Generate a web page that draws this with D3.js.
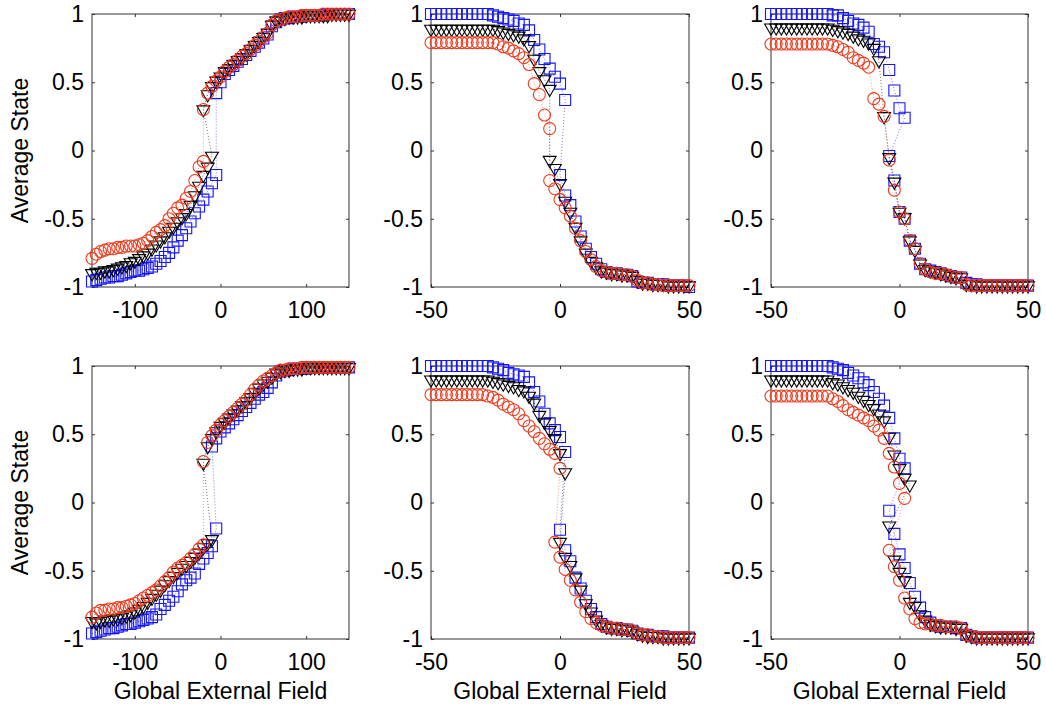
<!DOCTYPE html>
<html>
<head>
<meta charset="utf-8">
<script src="https://cdn.jsdelivr.net/npm/d3@7"></script>
<style>
  body { margin: 0; background: #fff; }
  svg text { font-family: "Liberation Sans", Arial, Helvetica, sans-serif; fill: #000; }
</style>
</head>
<body>
<svg id="chart" width="1046" height="710"></svg>
<script>
// ---- tick values and labels ----
const wideTicks = [-100, 0, 100];
const narrowTicks = [-50, 0, 50];
const stateTicks = [-1, -0.5, 0, 0.5, 1];
const xLabel = "Global External Field";
const yLabel = "Average State";

// ---- measured curves: [field, average state] in sweep order ----
// top row, left panel
const a1Squares = [[-150,-0.96],[-145,-0.95],[-140,-0.94],[-135,-0.93],[-130,-0.93],[-125,-0.92],[-120,-0.92],[-115,-0.91],[-110,-0.90],[-105,-0.89],[-100,-0.88],[-95,-0.88],[-90,-0.87],[-85,-0.86],[-80,-0.85],[-75,-0.83],[-70,-0.81],[-65,-0.78],[-60,-0.75],[-55,-0.71],[-50,-0.66],[-45,-0.62],[-40,-0.57],[-35,-0.52],[-30,-0.46],[-25,-0.41],[-20,-0.36],[-15,-0.30],[-10,-0.24],[-5,-0.18],
  [-5,0.42],[0,0.50],[5,0.56],[10,0.59],[15,0.62],[20,0.65],[25,0.67],[30,0.70],[35,0.73],[40,0.76],[45,0.79],[50,0.82],[55,0.85],[60,0.91],[65,0.94],[70,0.96],[75,0.97],[80,0.97],[85,0.98],[90,0.98],[95,0.98],[100,0.99],[105,0.99],[110,0.99],[115,0.99],[120,0.99],[125,1.0],[130,1.0],[135,1.0],[140,1.0],[145,1.0],[150,1.0]];
const a1Triangles = [[-150,-0.90],[-145,-0.89],[-140,-0.89],[-135,-0.88],[-130,-0.88],[-125,-0.87],[-120,-0.86],[-115,-0.85],[-110,-0.84],[-105,-0.82],[-100,-0.81],[-95,-0.79],[-90,-0.77],[-85,-0.75],[-80,-0.72],[-75,-0.69],[-70,-0.66],[-65,-0.63],[-60,-0.59],[-55,-0.56],[-50,-0.52],[-45,-0.49],[-40,-0.46],[-35,-0.40],[-30,-0.33],[-25,-0.26],[-20,-0.18],[-15,-0.12],[-10,-0.04],
  [-20,0.30],[-15,0.41],[-10,0.47],[-5,0.51],[0,0.54],[5,0.58],[10,0.60],[15,0.63],[20,0.66],[25,0.68],[30,0.71],[35,0.74],[40,0.77],[45,0.80],[50,0.83],[55,0.86],[60,0.92],[65,0.95],[70,0.96],[75,0.97],[80,0.98],[85,0.98],[90,0.98],[95,0.98],[100,0.99],[105,0.99],[110,0.99],[115,0.99],[120,0.99],[125,0.99],[130,1.0],[135,1.0],[140,1.0],[145,1.0],[150,1.0]];
const a1Circles = [[-150,-0.79],[-145,-0.76],[-140,-0.74],[-135,-0.73],[-130,-0.72],[-125,-0.72],[-120,-0.71],[-115,-0.71],[-110,-0.70],[-105,-0.70],[-100,-0.70],[-95,-0.69],[-90,-0.68],[-85,-0.66],[-80,-0.63],[-75,-0.60],[-70,-0.58],[-65,-0.55],[-60,-0.50],[-55,-0.46],[-50,-0.42],[-45,-0.40],[-40,-0.35],[-35,-0.30],[-30,-0.22],[-25,-0.12],[-20,-0.08],
  [-20,0.30],[-15,0.42],[-10,0.47],[-5,0.51],[0,0.54],[5,0.58],[10,0.61],[15,0.63],[20,0.66],[25,0.69],[30,0.71],[35,0.74],[40,0.77],[45,0.80],[50,0.83],[55,0.86],[60,0.92],[65,0.95],[70,0.96],[75,0.97],[80,0.98],[85,0.98],[90,0.98],[95,0.99],[100,0.99],[105,0.99],[110,0.99],[115,0.99],[120,1.0],[125,1.0],[130,1.0],[135,1.0],[140,1.0],[145,1.0],[150,1.0]];

// top row, middle panel
const a2Squares = [[-50,1],[-48,1],[-46,1],[-44,1],[-42,1],[-40,1],[-38,1],[-36,1],[-34,1],[-32,1],[-30,1],[-28,1],[-26,0.99],[-24,0.98],[-22,0.97],[-20,0.96],[-18,0.95],[-16,0.93],[-14,0.92],[-12,0.88],[-10,0.81],[-8,0.74],[-6,0.67],[-4,0.60],[-2,0.54],[0,0.49],[2,0.37],
  [0,-0.18],[2,-0.33],[4,-0.40],[6,-0.52],[8,-0.63],[10,-0.72],[12,-0.78],[14,-0.83],[16,-0.87],[18,-0.89],[20,-0.90],[22,-0.90],[24,-0.91],[26,-0.91],[28,-0.92],[30,-0.96],[32,-0.97],[34,-0.97],[36,-0.98],[38,-0.98],[40,-0.98],[42,-0.99],[44,-0.99],[46,-0.99],[48,-0.99],[50,-1.0]];
const a2Triangles = [[-50,0.89],[-48,0.89],[-46,0.89],[-44,0.89],[-42,0.89],[-40,0.89],[-38,0.89],[-36,0.89],[-34,0.89],[-32,0.89],[-30,0.89],[-28,0.89],[-26,0.89],[-24,0.88],[-22,0.87],[-20,0.86],[-18,0.85],[-16,0.84],[-14,0.82],[-12,0.77],[-10,0.67],[-8,0.58],[-6,0.52],[-4,0.45],
  [-4,-0.07],[-2,-0.13],[0,-0.24],[2,-0.37],[4,-0.45],[6,-0.56],[8,-0.66],[10,-0.75],[12,-0.81],[14,-0.85],[16,-0.88],[18,-0.89],[20,-0.90],[22,-0.90],[24,-0.91],[26,-0.91],[28,-0.92],[30,-0.95],[32,-0.97],[34,-0.97],[36,-0.98],[38,-0.98],[40,-0.98],[42,-0.99],[44,-0.99],[46,-0.99],[48,-0.99],[50,-0.99]];
const a2Circles = [[-50,0.79],[-48,0.79],[-46,0.79],[-44,0.79],[-42,0.79],[-40,0.79],[-38,0.79],[-36,0.79],[-34,0.79],[-32,0.79],[-30,0.79],[-28,0.79],[-26,0.79],[-24,0.78],[-22,0.76],[-20,0.75],[-18,0.73],[-16,0.71],[-14,0.68],[-12,0.63],[-10,0.49],[-8,0.41],[-6,0.26],[-4,0.16],
  [-4,-0.22],[-2,-0.28],[0,-0.36],[2,-0.42],[4,-0.48],[6,-0.57],[8,-0.66],[10,-0.74],[12,-0.80],[14,-0.85],[16,-0.88],[18,-0.89],[20,-0.90],[22,-0.90],[24,-0.91],[26,-0.91],[28,-0.92],[30,-0.95],[32,-0.97],[34,-0.97],[36,-0.98],[38,-0.98],[40,-0.99],[42,-0.99],[44,-0.99],[46,-0.99],[48,-0.99],[50,-0.99]];

// top row, right panel
const a3Squares = [[-50,1],[-48,1],[-46,1],[-44,1],[-42,1],[-40,1],[-38,1],[-36,1],[-34,1],[-32,1],[-30,1],[-28,1],[-26,0.99],[-24,0.99],[-22,0.97],[-20,0.95],[-18,0.93],[-16,0.92],[-14,0.90],[-12,0.87],[-10,0.78],[-8,0.76],[-6,0.72],[-4,0.59],[-2,0.44],[0,0.31],[2,0.24],
  [-4,-0.04],[-2,-0.22],[0,-0.45],[2,-0.50],[4,-0.66],[6,-0.72],[8,-0.83],[10,-0.87],[12,-0.88],[14,-0.89],[16,-0.90],[18,-0.91],[20,-0.92],[22,-0.93],[24,-0.93],[26,-0.97],[28,-0.98],[30,-0.98],[32,-0.99],[34,-0.99],[36,-0.99],[38,-0.99],[40,-0.99],[42,-0.99],[44,-0.99],[46,-0.99],[48,-0.99],[50,-0.99]];
const a3Triangles = [[-50,0.90],[-48,0.90],[-46,0.90],[-44,0.90],[-42,0.90],[-40,0.90],[-38,0.90],[-36,0.90],[-34,0.90],[-32,0.90],[-30,0.90],[-28,0.90],[-26,0.89],[-24,0.88],[-22,0.87],[-20,0.86],[-18,0.84],[-16,0.82],[-14,0.81],[-12,0.79],[-10,0.75],[-8,0.66],[-6,0.25],[-4,-0.05],[-2,-0.23],[0,-0.45],[2,-0.49],[4,-0.66],[6,-0.73],[8,-0.83],[10,-0.87],[12,-0.88],[14,-0.89],[16,-0.90],[18,-0.91],[20,-0.92],[22,-0.93],[24,-0.93],[26,-0.98],[28,-0.98],[30,-0.99],[32,-0.99],[34,-0.99],[36,-0.99],[38,-0.99],[40,-0.99],[42,-0.99],[44,-0.99],[46,-0.99],[48,-0.99],[50,-0.99]];
const a3Circles = [[-50,0.78],[-48,0.78],[-46,0.78],[-44,0.78],[-42,0.78],[-40,0.78],[-38,0.78],[-36,0.78],[-34,0.78],[-32,0.78],[-30,0.78],[-28,0.78],[-26,0.77],[-24,0.76],[-22,0.74],[-20,0.72],[-18,0.68],[-16,0.66],[-14,0.64],[-12,0.61],[-10,0.38],[-8,0.34],[-6,0.25],[-4,-0.07],[-2,-0.29],[0,-0.45],[2,-0.50],[4,-0.66],[6,-0.72],[8,-0.83],[10,-0.87],[12,-0.89],[14,-0.90],[16,-0.90],[18,-0.91],[20,-0.92],[22,-0.93],[24,-0.93],[26,-0.98],[28,-0.99],[30,-0.99],[32,-0.99],[34,-0.99],[36,-0.99],[38,-0.99],[40,-0.99],[42,-0.99],[44,-0.99],[46,-0.99],[48,-0.99],[50,-0.99]];

// bottom row, left panel
const b1Squares = [[-150,-0.96],[-145,-0.95],[-140,-0.94],[-135,-0.93],[-130,-0.92],[-125,-0.92],[-120,-0.91],[-115,-0.90],[-110,-0.89],[-105,-0.89],[-100,-0.88],[-95,-0.87],[-90,-0.86],[-85,-0.85],[-80,-0.84],[-75,-0.82],[-70,-0.78],[-65,-0.75],[-60,-0.72],[-55,-0.69],[-50,-0.65],[-45,-0.60],[-40,-0.57],[-35,-0.55],[-30,-0.52],[-25,-0.45],[-20,-0.41],[-15,-0.37],[-10,-0.32],[-5,-0.19],
  [-10,0.41],[-5,0.47],[0,0.52],[5,0.55],[10,0.58],[15,0.61],[20,0.64],[25,0.67],[30,0.70],[35,0.73],[40,0.76],[45,0.79],[50,0.81],[55,0.84],[60,0.88],[65,0.93],[70,0.96],[75,0.97],[80,0.97],[85,0.98],[90,0.98],[95,0.98],[100,0.98],[105,0.99],[110,0.99],[115,0.99],[120,0.99],[125,0.99],[130,0.99],[135,0.99],[140,0.99],[145,0.99],[150,0.99]];
const b1Triangles = [[-150,-0.87],[-145,-0.88],[-140,-0.87],[-135,-0.86],[-130,-0.86],[-125,-0.85],[-120,-0.85],[-115,-0.84],[-110,-0.83],[-105,-0.82],[-100,-0.80],[-95,-0.78],[-90,-0.76],[-85,-0.73],[-80,-0.70],[-75,-0.67],[-70,-0.64],[-65,-0.60],[-60,-0.57],[-55,-0.54],[-50,-0.51],[-45,-0.48],[-40,-0.46],[-35,-0.43],[-30,-0.40],[-25,-0.37],[-20,-0.33],[-15,-0.30],[-10,-0.27],
  [-20,0.29],[-15,0.41],[-10,0.47],[-5,0.52],[0,0.56],[5,0.59],[10,0.62],[15,0.65],[20,0.68],[25,0.71],[30,0.74],[35,0.77],[40,0.81],[45,0.84],[50,0.87],[55,0.89],[60,0.92],[65,0.95],[70,0.96],[75,0.97],[80,0.97],[85,0.98],[90,0.98],[95,0.98],[100,0.99],[105,0.99],[110,0.99],[115,0.99],[120,0.99],[125,0.99],[130,0.99],[135,0.99],[140,0.99],[145,0.99],[150,0.99]];
const b1Circles = [[-150,-0.84],[-145,-0.81],[-140,-0.79],[-135,-0.79],[-130,-0.78],[-125,-0.78],[-120,-0.77],[-115,-0.77],[-110,-0.76],[-105,-0.75],[-100,-0.74],[-95,-0.72],[-90,-0.70],[-85,-0.68],[-80,-0.66],[-75,-0.64],[-70,-0.61],[-65,-0.58],[-60,-0.55],[-55,-0.51],[-50,-0.48],[-45,-0.46],[-40,-0.44],[-35,-0.41],[-30,-0.38],[-25,-0.34],[-20,-0.31],
  [-20,0.30],[-15,0.44],[-10,0.49],[-5,0.53],[0,0.57],[5,0.60],[10,0.63],[15,0.66],[20,0.69],[25,0.72],[30,0.75],[35,0.79],[40,0.83],[45,0.86],[50,0.89],[55,0.91],[60,0.93],[65,0.95],[70,0.97],[75,0.97],[80,0.98],[85,0.98],[90,0.98],[95,0.99],[100,0.99],[105,0.99],[110,0.99],[115,0.99],[120,0.99],[125,0.99],[130,0.99],[135,0.99],[140,0.99],[145,0.99],[150,0.99]];

// bottom row, middle panel
const b2Squares = [[-50,1],[-48,1],[-46,1],[-44,1],[-42,1],[-40,1],[-38,1],[-36,1],[-34,1],[-32,1],[-30,1],[-28,1],[-26,0.99],[-24,0.98],[-22,0.97],[-20,0.95],[-18,0.94],[-16,0.93],[-14,0.92],[-12,0.88],[-10,0.81],[-8,0.74],[-6,0.65],[-4,0.58],[-2,0.53],[0,0.48],[2,0.37],
  [0,-0.20],[2,-0.35],[4,-0.43],[6,-0.55],[8,-0.63],[10,-0.72],[12,-0.78],[14,-0.84],[16,-0.89],[18,-0.91],[20,-0.92],[22,-0.92],[24,-0.93],[26,-0.93],[28,-0.94],[30,-0.96],[32,-0.97],[34,-0.97],[36,-0.98],[38,-0.98],[40,-0.98],[42,-0.99],[44,-0.99],[46,-0.99],[48,-0.99],[50,-0.99]];
const b2Triangles = [[-50,0.90],[-48,0.90],[-46,0.90],[-44,0.90],[-42,0.90],[-40,0.90],[-38,0.90],[-36,0.90],[-34,0.90],[-32,0.90],[-30,0.90],[-28,0.90],[-26,0.89],[-24,0.88],[-22,0.87],[-20,0.86],[-18,0.85],[-16,0.83],[-14,0.82],[-12,0.78],[-10,0.73],[-8,0.64],[-6,0.59],[-4,0.53],[-2,0.47],[0,0.36],[2,0.22],
  [0,-0.29],[2,-0.40],[4,-0.46],[6,-0.55],[8,-0.64],[10,-0.74],[12,-0.80],[14,-0.86],[16,-0.89],[18,-0.91],[20,-0.92],[22,-0.92],[24,-0.93],[26,-0.93],[28,-0.94],[30,-0.96],[32,-0.97],[34,-0.98],[36,-0.98],[38,-0.98],[40,-0.99],[42,-0.99],[44,-0.99],[46,-0.99],[48,-0.99],[50,-0.99]];
const b2Circles = [[-50,0.79],[-48,0.79],[-46,0.79],[-44,0.79],[-42,0.79],[-40,0.79],[-38,0.79],[-36,0.79],[-34,0.79],[-32,0.79],[-30,0.79],[-28,0.78],[-26,0.77],[-24,0.75],[-22,0.72],[-20,0.70],[-18,0.68],[-16,0.65],[-14,0.60],[-12,0.56],[-10,0.52],[-8,0.47],[-6,0.43],[-4,0.39],[-2,0.36],[0,0.25],
  [-2,-0.29],[0,-0.40],[2,-0.49],[4,-0.57],[6,-0.64],[8,-0.73],[10,-0.80],[12,-0.85],[14,-0.88],[16,-0.90],[18,-0.91],[20,-0.92],[22,-0.92],[24,-0.93],[26,-0.93],[28,-0.94],[30,-0.96],[32,-0.97],[34,-0.97],[36,-0.98],[38,-0.98],[40,-0.99],[42,-0.99],[44,-0.99],[46,-0.99],[48,-0.99],[50,-0.99]];

// bottom row, right panel
const b3Squares = [[-50,1],[-48,1],[-46,1],[-44,1],[-42,1],[-40,1],[-38,1],[-36,1],[-34,1],[-32,1],[-30,1],[-28,1],[-26,0.99],[-24,0.98],[-22,0.97],[-20,0.95],[-18,0.93],[-16,0.91],[-14,0.88],[-12,0.86],[-10,0.81],[-8,0.76],[-6,0.71],[-4,0.62],[-2,0.47],[0,0.32],[2,0.25],
  [-4,-0.06],[-2,-0.23],[0,-0.38],[2,-0.48],[4,-0.59],[6,-0.69],[8,-0.77],[10,-0.84],[12,-0.88],[14,-0.90],[16,-0.91],[18,-0.91],[20,-0.91],[22,-0.92],[24,-0.92],[26,-0.97],[28,-0.98],[30,-0.99],[32,-0.99],[34,-0.99],[36,-0.99],[38,-0.99],[40,-0.99],[42,-0.99],[44,-0.99],[46,-0.99],[48,-0.99],[50,-0.99]];
const b3Triangles = [[-50,0.90],[-48,0.90],[-46,0.90],[-44,0.90],[-42,0.90],[-40,0.90],[-38,0.90],[-36,0.90],[-34,0.90],[-32,0.90],[-30,0.90],[-28,0.90],[-26,0.88],[-24,0.87],[-22,0.85],[-20,0.83],[-18,0.81],[-16,0.78],[-14,0.75],[-12,0.72],[-10,0.69],[-8,0.65],[-6,0.60],[-4,0.48],[-2,0.35],[0,0.25],[2,0.18],[4,0.13],
  [-4,-0.17],[-2,-0.42],[0,-0.51],[2,-0.57],[4,-0.73],[6,-0.76],[8,-0.82],[10,-0.86],[12,-0.89],[14,-0.90],[16,-0.91],[18,-0.91],[20,-0.91],[22,-0.92],[24,-0.92],[26,-0.97],[28,-0.98],[30,-0.99],[32,-0.99],[34,-0.99],[36,-0.99],[38,-0.99],[40,-0.99],[42,-0.99],[44,-0.99],[46,-0.99],[48,-0.99],[50,-0.99]];
const b3Circles = [[-50,0.78],[-48,0.78],[-46,0.78],[-44,0.78],[-42,0.78],[-40,0.78],[-38,0.78],[-36,0.78],[-34,0.78],[-32,0.78],[-30,0.78],[-28,0.78],[-26,0.76],[-24,0.74],[-22,0.71],[-20,0.68],[-18,0.66],[-16,0.64],[-14,0.62],[-12,0.60],[-10,0.56],[-8,0.53],[-6,0.47],[-4,0.36],[-2,0.26],[0,0.14],[2,0.03],
  [-4,-0.35],[-2,-0.47],[0,-0.57],[2,-0.70],[4,-0.78],[6,-0.85],[8,-0.88],[10,-0.89],[12,-0.89],[14,-0.90],[16,-0.90],[18,-0.91],[20,-0.91],[22,-0.91],[24,-0.92],[26,-0.97],[28,-0.98],[30,-0.99],[32,-0.99],[34,-0.99],[36,-0.99],[38,-0.99],[40,-0.99],[42,-0.99],[44,-0.99],[46,-0.99],[48,-0.99],[50,-0.99]];

// ---- layout ----
const W = 1046, H = 710;
const colSpans = [[92, 349], [431, 689], [771, 1028]];
const rowSpans = [[14, 287], [366, 639]];
const tickFont = 23, labelFont = 23;

const styles = {
  square:   { color: "#1414ff", symbol: d3.symbol(d3.symbolSquare, 121)(), rotate: "" },
  triangle: { color: "#000000", symbol: d3.symbol(d3.symbolTriangle, 72)(), rotate: " rotate(180)" },
  circle:   { color: "#ee3a1c", symbol: d3.symbol(d3.symbolCircle, 113)(), rotate: "" }
};

const panels = [
  { row: 0, col: 0, domain: [-150, 150], ticks: wideTicks,   series: [a1Squares, a1Triangles, a1Circles] },
  { row: 0, col: 1, domain: [-50, 50],   ticks: narrowTicks, series: [a2Squares, a2Triangles, a2Circles] },
  { row: 0, col: 2, domain: [-50, 50],   ticks: narrowTicks, series: [a3Squares, a3Triangles, a3Circles] },
  { row: 1, col: 0, domain: [-150, 150], ticks: wideTicks,   series: [b1Squares, b1Triangles, b1Circles] },
  { row: 1, col: 1, domain: [-50, 50],   ticks: narrowTicks, series: [b2Squares, b2Triangles, b2Circles] },
  { row: 1, col: 2, domain: [-50, 50],   ticks: narrowTicks, series: [b3Squares, b3Triangles, b3Circles] }
];
const kinds = ["square", "triangle", "circle"];

const svg = d3.select("#chart");
svg.append("rect").attr("width", W).attr("height", H).attr("fill", "#fff");

function styleAxis(g) {
  g.select(".domain").remove();
  g.selectAll(".tick line").attr("stroke", "#333").attr("stroke-width", 1);
  g.selectAll(".tick text").attr("font-size", tickFont)
    .attr("font-family", "'Liberation Sans', Arial, sans-serif").attr("fill", "#000");
}

panels.forEach(p => {
  const [x0, x1] = colSpans[p.col];
  const [y0, y1] = rowSpans[p.row];
  const x = d3.scaleLinear().domain(p.domain).range([x0, x1]);
  const y = d3.scaleLinear().domain([-1, 1]).range([y1, y0]);
  const g = svg.append("g");

  const fmt = d => d3.format("")(d).replace("\u2212", "-");

  // bottom axis with labels, ticks pointing inward
  g.append("g").attr("transform", `translate(0,${y1})`)
    .call(d3.axisBottom(x).tickValues(p.ticks).tickSizeInner(-3).tickSizeOuter(0).tickPadding(15).tickFormat(fmt))
    .call(styleAxis);
  // top axis, ticks only
  g.append("g").attr("transform", `translate(0,${y0})`)
    .call(d3.axisTop(x).tickValues(p.ticks).tickSizeInner(-3).tickSizeOuter(0).tickFormat(""))
    .call(styleAxis);
  // left axis with labels
  g.append("g").attr("transform", `translate(${x0},0)`)
    .call(d3.axisLeft(y).tickValues(stateTicks).tickSizeInner(-3).tickSizeOuter(0).tickPadding(8).tickFormat(fmt))
    .call(styleAxis);
  // right axis, ticks only
  g.append("g").attr("transform", `translate(${x1},0)`)
    .call(d3.axisRight(y).tickValues(stateTicks).tickSizeInner(-3).tickSizeOuter(0).tickFormat(""))
    .call(styleAxis);

  // axes box
  g.append("rect").attr("x", x0).attr("y", y0).attr("width", x1 - x0).attr("height", y1 - y0)
    .attr("fill", "none").attr("stroke", "#333").attr("stroke-width", 1);

  const line = d3.line().x(d => x(d[0])).y(d => y(d[1]));
  p.series.forEach((data, i) => {
    const s = styles[kinds[i]];
    g.append("path").attr("d", line(data)).attr("fill", "none")
      .attr("stroke", s.color).attr("stroke-width", 0.8).attr("stroke-dasharray", "1 2").attr("opacity", 0.7);
    g.append("g").selectAll("path").data(data).join("path")
      .attr("transform", d => `translate(${x(d[0])},${y(d[1])})${s.rotate}`)
      .attr("d", s.symbol).attr("fill", "none").attr("stroke", s.color).attr("stroke-width", 1.1);
  });

  if (p.col === 0) {
    svg.append("text")
      .attr("transform", `translate(28,${(y0 + y1) / 2}) rotate(-90)`)
      .attr("text-anchor", "middle").attr("font-size", labelFont).text(yLabel);
  }
  if (p.row === 1) {
    svg.append("text")
      .attr("x", (x0 + x1) / 2).attr("y", 699)
      .attr("text-anchor", "middle").attr("font-size", labelFont).text(xLabel);
  }
});
</script>
</body>
</html>
